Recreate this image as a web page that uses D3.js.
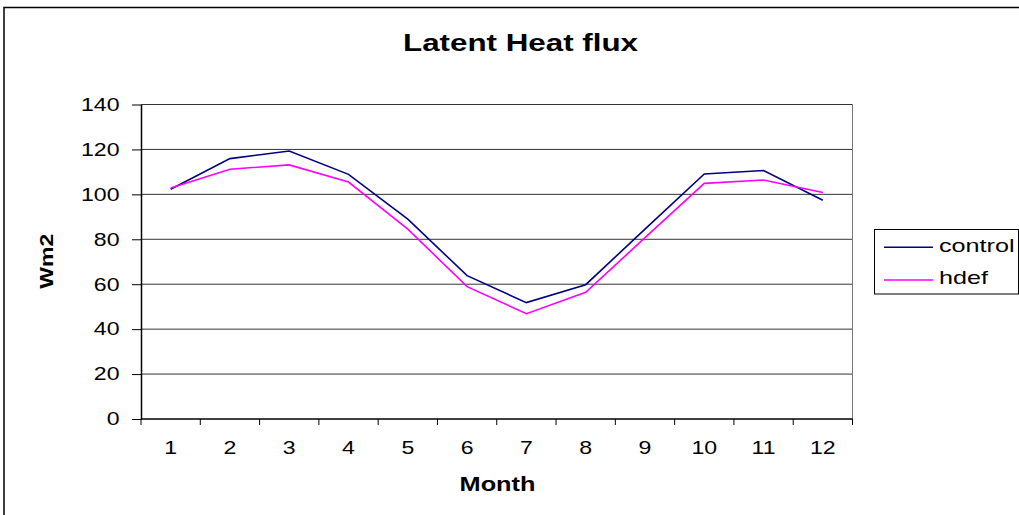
<!DOCTYPE html>
<html>
<head>
<meta charset="utf-8">
<script src="https://cdn.jsdelivr.net/npm/d3@7"></script>
<style>
  html, body { margin: 0; padding: 0; background: #fff; }
  svg { display: block; font-family: "Liberation Sans", Arial, sans-serif; }
</style>
</head>
<body>
<svg id="chart" width="1019" height="515"></svg>
<script>
// Monthly latent heat flux (W/m2) for two runs
const months = [1, 2, 3, 4, 5, 6, 7, 8, 9, 10, 11, 12];
const control = [102.3, 115.9, 119.3, 108.9, 89.0, 63.8, 51.8, 59.8, 84.5, 109.1, 110.6, 97.4];
const hdef    = [102.8, 111.2, 113.1, 105.5, 84.5, 58.9, 46.9, 56.4, 80.7, 104.9, 106.4, 100.8];
const yTicks  = [0, 20, 40, 60, 80, 100, 120, 140];
const seriesNames = ["control", "hdef"];
const seriesColors = ["#000080", "#ff00ff"];

const svg = d3.select("#chart");
const W = 1019, H = 515;
const plot = { left: 141, right: 852.5, top: 104.5, bottom: 419 };

// the chart's typeface is drawn wide; stretch text horizontally about its anchor
function wideText(g, x, y, str, opts) {
  const t = g.append("text")
    .attr("text-anchor", opts.anchor || "start")
    .attr("font-size", opts.size)
    .attr("font-weight", opts.bold ? "bold" : "normal")
    .attr("fill", "#000")
    .text(str);
  let sx = opts.sx || 1;
  if (opts.width) sx = opts.width / t.node().getComputedTextLength();
  const rot = opts.rotate ? ` rotate(${opts.rotate})` : "";
  t.attr("transform", `translate(${x},${y})${rot} scale(${sx},1)`);
  return t;
}

// outer chart frame
svg.append("rect")
  .attr("x", 4).attr("y", 7.5)
  .attr("width", W + 10).attr("height", H + 10)
  .attr("fill", "#fff").attr("stroke", "#000").attr("stroke-width", 1.5);

const x = d3.scaleBand().domain(months).range([plot.left, plot.right]).padding(0);
const y = d3.scaleLinear().domain([0, 140]).range([plot.bottom, plot.top]);

// horizontal gridlines
svg.append("g")
  .selectAll("line")
  .data(yTicks.filter(d => d > 0))
  .join("line")
  .attr("x1", plot.left).attr("x2", plot.right)
  .attr("y1", d => y(d)).attr("y2", d => y(d))
  .attr("stroke", "#333").attr("stroke-width", 1);

// plot area right border
svg.append("line")
  .attr("x1", plot.right).attr("x2", plot.right)
  .attr("y1", plot.top).attr("y2", plot.bottom)
  .attr("stroke", "#777").attr("stroke-width", 1);

// y axis
const yAxis = d3.axisLeft(y).tickValues(yTicks).tickSize(9).tickFormat("").tickSizeOuter(0);
const gy = svg.append("g").attr("transform", `translate(${plot.left},0)`).call(yAxis);
gy.select(".domain").attr("stroke", "#000").attr("stroke-width", 1.5);
gy.selectAll(".tick line").attr("stroke", "#000");
const gyl = svg.append("g");
yTicks.forEach(v => wideText(gyl, 119.5, y(v) + 6.3, String(v), { anchor: "end", size: 17.5, sx: 1.32 }));

// x axis: ticks sit on category boundaries
const gx = svg.append("g").attr("transform", `translate(0,${plot.bottom})`);
gx.append("line")
  .attr("x1", plot.left).attr("x2", plot.right)
  .attr("y1", 0).attr("y2", 0)
  .attr("stroke", "#000").attr("stroke-width", 1.5);
const bounds = months.map(m => x(m)).concat([x(months[months.length - 1]) + x.bandwidth()]);
gx.selectAll("line.tk")
  .data(bounds)
  .join("line")
  .attr("class", "tk")
  .attr("x1", d => d).attr("x2", d => d)
  .attr("y1", 0).attr("y2", 6)
  .attr("stroke", "#000").attr("stroke-width", 1);
const gxl = svg.append("g");
months.forEach(m => wideText(gxl, x(m) + x.bandwidth() / 2, plot.bottom + 35, String(m),
  { anchor: "middle", size: 17.5, sx: 1.32 }));

// series lines
const line = d3.line()
  .x((d, i) => x(months[i]) + x.bandwidth() / 2)
  .y(d => y(d));
[control, hdef].forEach((vals, k) => {
  svg.append("path")
    .datum(vals)
    .attr("d", line)
    .attr("fill", "none")
    .attr("stroke", seriesColors[k])
    .attr("stroke-width", 1.6)
    .attr("stroke-linejoin", "miter");
});

// title and axis titles
wideText(svg, 520.5, 51, "Latent Heat flux", { anchor: "middle", size: 24, bold: true, width: 235 });
wideText(svg, 497.5, 490.5, "Month", { anchor: "middle", size: 19.5, bold: true, width: 76 });
wideText(svg, 53, 261.3, "Wm2", { anchor: "middle", size: 19, bold: true, width: 55, rotate: -90 });

// legend
const lg = svg.append("g");
lg.append("rect")
  .attr("x", 874.5).attr("y", 229.5)
  .attr("width", 144).attr("height", 64.5)
  .attr("fill", "#fff").attr("stroke", "#000").attr("stroke-width", 1);
const legendY = [247.3, 280];
const legendBase = [252.3, 284.3];
seriesNames.forEach((name, i) => {
  lg.append("line")
    .attr("x1", 884).attr("x2", 933)
    .attr("y1", legendY[i]).attr("y2", legendY[i])
    .attr("stroke", seriesColors[i]).attr("stroke-width", 1.6);
  wideText(lg, 939, legendBase[i], name, { size: 18.5, sx: 1.36 });
});
</script>
</body>
</html>
